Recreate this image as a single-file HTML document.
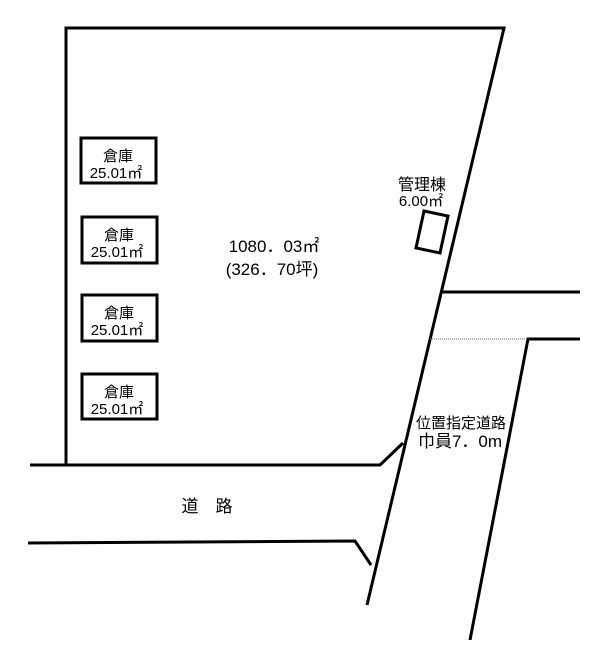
<!DOCTYPE html>
<html><head><meta charset="utf-8"><style>
body{margin:0;background:#fff;}
svg text{font-family:"Liberation Sans","Noto Sans CJK JP",sans-serif;fill:#000;}
</style></head><body>
<svg width="608" height="640" viewBox="0 0 608 640" xmlns="http://www.w3.org/2000/svg">
<g stroke="#000" stroke-width="3" fill="none">
<polyline points="66,465 66,28 504,28 367,605"/>
<polyline points="30,465 380,465 403,443"/>
<polyline points="28,543 355,541 371,565"/>
<line x1="441" y1="292" x2="580" y2="292"/>
<polyline points="580,339 528,339 470,640"/>
<rect x="81" y="138" width="75" height="45"/>
<rect x="82" y="217" width="75" height="46"/>
<rect x="82" y="295" width="75" height="46"/>
<rect x="82" y="374" width="75" height="45"/>
<polygon points="424,211 448,216 440,253 416,248"/>
</g>
<line x1="430" y1="339" x2="528" y2="339" stroke="#666" stroke-width="1" stroke-dasharray="1,1"/>
<g font-size="15" text-anchor="middle">
<text x="118" y="161">倉庫</text><text x="116" y="178">25.01㎡</text>
<text x="119" y="240">倉庫</text><text x="117" y="257">25.01㎡</text>
<text x="119" y="318">倉庫</text><text x="117" y="335">25.01㎡</text>
<text x="119" y="397">倉庫</text><text x="117" y="414">25.01㎡</text>
<text x="422" y="190" font-size="16">管理棟</text><text x="421" y="206">6.00㎡</text>
<text x="274" y="252" font-size="17">1080．03㎡</text>
<text x="272" y="275" font-size="17">(326．70坪)</text>
<text x="461" y="428" font-size="15">位置指定道路</text>
<text x="460" y="447" font-size="17">巾員7．0m</text>
<text x="207" y="512" font-size="17">道　路</text>
</g>
</svg>
</body></html>
